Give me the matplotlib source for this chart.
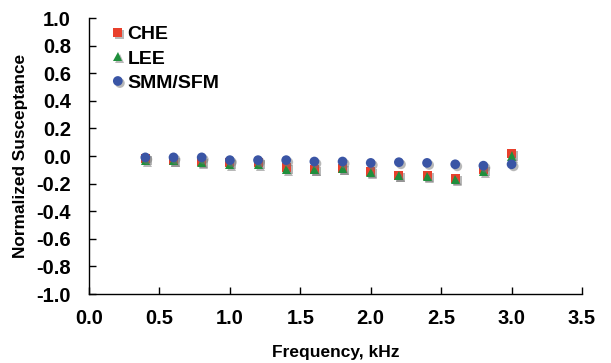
import matplotlib
matplotlib.use("Agg")
import matplotlib.pyplot as plt
import matplotlib.patheffects as pe

# frequency, kHz
freq = [0.4, 0.6, 0.8, 1.0, 1.2, 1.4, 1.6, 1.8, 2.0, 2.2, 2.4, 2.6, 2.8, 3.0]

che = [-0.02, -0.03, -0.04, -0.05, -0.05, -0.08, -0.10, -0.09, -0.11, -0.14, -0.14, -0.16, -0.10, 0.015]
lee = [-0.03, -0.03, -0.05, -0.06, -0.06, -0.10, -0.10, -0.09, -0.12, -0.14, -0.15, -0.17, -0.11, 0.0]
smm = [-0.01, -0.01, -0.01, -0.03, -0.03, -0.03, -0.04, -0.04, -0.05, -0.045, -0.05, -0.06, -0.07, -0.06]

x_ticks = [0.0, 0.5, 1.0, 1.5, 2.0, 2.5, 3.0, 3.5]
y_ticks = [-1.0, -0.8, -0.6, -0.4, -0.2, 0.0, 0.2, 0.4, 0.6, 0.8, 1.0]

plt.rcParams["font.family"] = ["Liberation Sans", "DejaVu Sans"]
plt.rcParams["font.weight"] = "bold"

fig = plt.figure(figsize=(6.11, 3.63), dpi=100)
ax = fig.add_axes([89 / 611, 1 - 294 / 363, 493 / 611, 276 / 363])

shadow = [pe.SimplePatchShadow(offset=(1.5, -1.5), shadow_rgbFace="0.45", alpha=0.5), pe.Normal()]

series = [
    (che, "CHE", "s", "#e8402c", 6.5),
    (lee, "LEE", "^", "#1f8f3c", 6.5),
    (smm, "SMM/SFM", "o", "#3a55a5", 7),
]
for vals, name, mk, col, ms in series:
    ax.plot(freq, vals, linestyle="none", marker=mk, color=col, markersize=ms,
            markeredgewidth=0, label=name, path_effects=shadow)

ax.set_xlim(0.0, 3.5)
ax.set_ylim(-1.0, 1.0)
ax.set_xticks(x_ticks)
ax.set_yticks(y_ticks)
ax.set_xticklabels([f"{t:.1f}" for t in x_ticks])
ax.set_yticklabels([f"{t:.1f}" for t in y_ticks])
ax.tick_params(direction="in", length=5, width=1, labelsize=14.5, color="black")
ax.tick_params(axis="x", pad=11)
ax.tick_params(axis="y", pad=13)

for side in ("top", "right"):
    ax.spines[side].set_visible(False)
for side in ("left", "bottom"):
    ax.spines[side].set_color("black")
    ax.spines[side].set_linewidth(1)

ax.set_xlabel("Frequency, kHz", fontsize=12.5, fontweight="bold", labelpad=12)
ax.set_ylabel("Normalized Susceptance", fontsize=12.4, fontweight="bold", labelpad=6)

leg = ax.legend(loc="upper left", bbox_to_anchor=(0.047, 0.972), frameon=False,
                fontsize=14, handletextpad=0.22, handlelength=0.58,
                labelspacing=0.34, borderaxespad=0, borderpad=0)
for t in leg.get_texts():
    t.set_fontweight("bold")

fig.savefig("out.png", dpi=100)
